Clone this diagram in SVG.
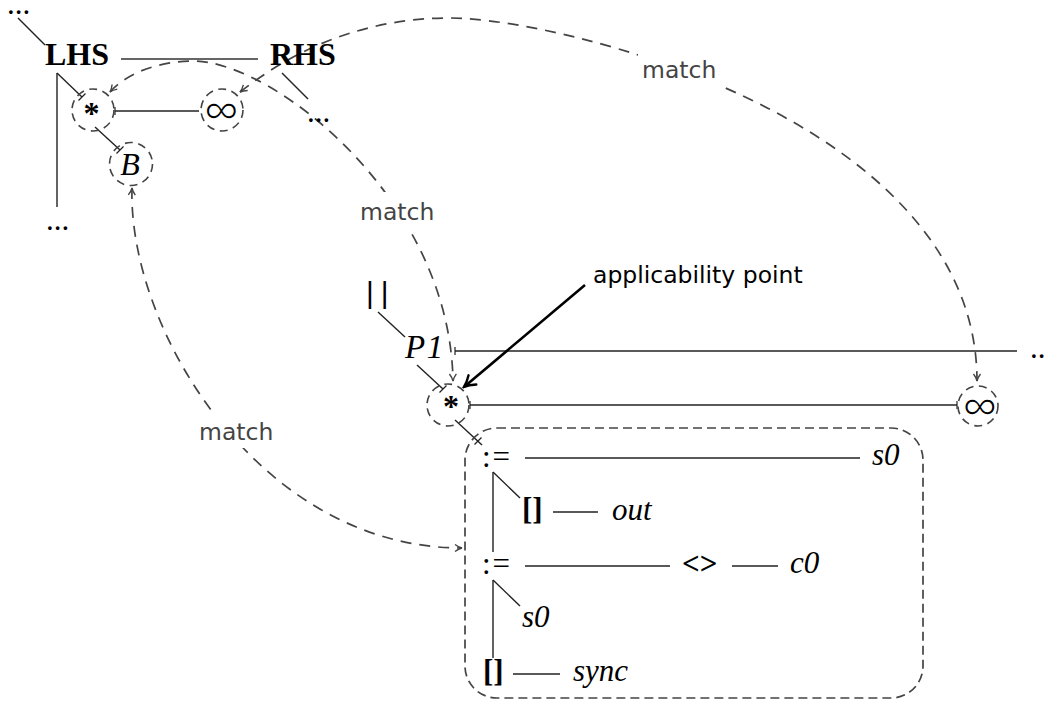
<svg xmlns="http://www.w3.org/2000/svg" width="1045" height="701" viewBox="0 0 1045 701">
<defs>
<style>
.e{stroke:#222;stroke-width:1.4;fill:none}
.t{stroke:#222;stroke-width:1.2;fill:none}
.c{fill:none;stroke:#444;stroke-width:1.6;stroke-dasharray:8 5.5}
.m{fill:none;stroke:#444;stroke-width:1.7;stroke-dasharray:11 8}
.box{fill:none;stroke:#444;stroke-width:1.7;stroke-dasharray:9 5}
.s{font-family:"Liberation Serif","Times New Roman",serif;font-size:31px;fill:#000}
.b{font-weight:bold}
.i{font-style:italic}
.ast{font-family:"Liberation Serif","Times New Roman",serif;font-size:32px;font-weight:bold}
.inf{font-family:"Open Sans","Noto Sans","DejaVu Sans",sans-serif;font-size:48px;font-weight:300}
.sans{font-family:"DejaVu Sans",sans-serif;font-size:23.5px}
.lbl{fill:#444}
</style>
<marker id="ga" viewBox="-8 -5 10 10" refX="0" refY="0" markerWidth="10" markerHeight="10" markerUnits="userSpaceOnUse" orient="auto-start-reverse">
<path d="M-7,-3.5 Q-3.5,-0.8 0,0 Q-3.5,0.8 -7,3.5" fill="none" stroke="#444" stroke-width="1.4"/>
</marker>
<marker id="ba" viewBox="-14 -8 16 16" refX="0" refY="0" markerWidth="16" markerHeight="16" markerUnits="userSpaceOnUse" orient="auto">
<path d="M-11,-6 Q-5,-1.5 0,0 Q-5,1.5 -11,6" fill="none" stroke="#000" stroke-width="2.4" stroke-linecap="round"/>
</marker>
</defs>
<rect width="1045" height="701" fill="#fff"/>

<g id="connectors">
<line class="e" x1="18" y1="18" x2="45" y2="45"/>
<line class="e" x1="121" y1="59" x2="258" y2="59" style="stroke:#333"/>
<line class="e" x1="57" y1="73" x2="57" y2="207"/>
<line class="e" x1="57" y1="73" x2="82" y2="97"/>
<line class="t" x1="78.5" y1="100.5" x2="85.5" y2="93.5"/>
<line class="e" x1="95" y1="127" x2="120" y2="150"/>
<line class="t" x1="116.5" y1="153.5" x2="123.5" y2="146.5"/>
<line class="e" x1="115" y1="111" x2="199" y2="111"/>
<line class="t" x1="115" y1="107" x2="115" y2="115"/>
<line class="e" x1="282" y1="73" x2="308" y2="99"/>
<line class="e" x1="378" y1="312" x2="405" y2="337"/>
<line class="e" x1="417" y1="365" x2="443" y2="389"/>
<line class="t" x1="439.5" y1="392.5" x2="446.5" y2="385.5"/>
<line class="e" x1="455" y1="351" x2="1017" y2="351"/>
<line class="t" x1="455" y1="347" x2="455" y2="355"/>
<line class="e" x1="470" y1="405" x2="957" y2="405"/>
<line class="t" x1="470" y1="401" x2="470" y2="409"/>
<line class="t" x1="957" y1="401" x2="957" y2="409"/>
<line class="e" x1="455" y1="420" x2="482" y2="445"/>
<line class="t" x1="474.5" y1="444.5" x2="481.5" y2="437.5"/>
<line class="e" x1="525" y1="458" x2="860" y2="458"/>
<line class="e" x1="493" y1="472" x2="520" y2="498"/>
<line class="e" x1="493" y1="472" x2="493" y2="552"/>
<line class="e" x1="553" y1="512" x2="598" y2="512"/>
<line class="e" x1="525" y1="566" x2="670" y2="566"/>
<line class="e" x1="732" y1="566" x2="778" y2="566"/>
<line class="e" x1="493" y1="580" x2="520" y2="606"/>
<line class="e" x1="493" y1="580" x2="493" y2="658"/>
<line class="e" x1="513" y1="674" x2="560" y2="674"/>
<path class="m" d="M240,92 C300,45 370,18 450,18 C560,18 977,120 977,381" marker-start="url(#ga)" marker-end="url(#ga)"/>
<path class="m" d="M110,92 C128,72 160,61 195,61 C275,63 450,200 453,381" marker-start="url(#ga)" marker-end="url(#ga)"/>
<path class="m" d="M132,188 C128,330 260,548 462,548" marker-start="url(#ga)" marker-end="url(#ga)"/>
<line x1="585" y1="285" x2="464" y2="387" stroke="#000" stroke-width="2.6" marker-end="url(#ba)"/>
<rect x="638" y="50" width="82" height="36" fill="#fff"/>
<rect x="355" y="192" width="82" height="36" fill="#fff"/>
<rect x="195" y="412" width="82" height="36" fill="#fff"/>
<text class="sans lbl" x="642" y="78">match</text>
<text class="sans lbl" x="360" y="220">match</text>
<text class="sans lbl" x="199" y="440">match</text>
</g>

<g id="dots-tl"><text class="s" x="7" y="14">...</text></g>
<g id="lhs"><text class="s b" x="45" y="65" style="font-size:32px">LHS</text></g>
<g id="rhs"><text class="s b" x="270" y="65" style="font-size:32px">RHS</text></g>
<g id="dots-lhs"><text class="s" x="46" y="230">...</text></g>
<g id="dots-rhs"><text class="s" x="307" y="122">...</text></g>
<g id="star1"><circle class="c" cx="93" cy="110" r="21"/><text class="ast" x="91.5" y="124" text-anchor="middle">*</text></g>
<g id="inf1"><circle class="c" cx="222" cy="110" r="21"/><text class="inf" x="221.5" y="128" text-anchor="middle">∞</text></g>
<g id="b"><circle class="c" cx="131" cy="164" r="21.5"/><text class="s i" x="130" y="175" text-anchor="middle" style="font-size:32px">B</text></g>
<g id="par"><text x="366" y="303" style="font-family:'Liberation Sans',Arial,sans-serif;font-size:30px;letter-spacing:7px">||</text></g>
<g id="p1"><text class="s i" x="405" y="358" style="font-size:33px;letter-spacing:1.5px">P1</text></g>
<g id="star2"><circle class="c" cx="448" cy="405" r="21"/><text class="ast" x="451" y="416.5" text-anchor="middle">*</text></g>
<g id="dots-p1"><text class="s" x="1030" y="358">...</text></g>
<g id="inf2"><circle class="c" cx="978" cy="406" r="20"/><text class="inf" x="980" y="424" text-anchor="middle">∞</text></g>
<g id="applicability"><text class="sans" x="593" y="283">applicability point</text></g>
<g id="block">
<rect class="box" x="465" y="428" width="458" height="270" rx="32" ry="32"/>
<g id="assign1"><text class="s" x="482" y="467" style="letter-spacing:2px">:=</text></g>
<g id="s0a"><text class="s i" x="872" y="465">s0</text></g>
<g id="idx1"><text class="s b" x="522" y="518.5">[]</text></g>
<g id="out"><text class="s i" x="612" y="520">out</text></g>
<g id="assign2"><text class="s" x="482" y="574" style="letter-spacing:2px">:=</text></g>
<g id="neq"><text class="s b" x="682" y="574">&lt;&gt;</text></g>
<g id="c0"><text class="s i" x="790" y="573">c0</text></g>
<g id="s0b"><text class="s i" x="522" y="627">s0</text></g>
<g id="idx2"><text class="s b" x="483" y="680.5">[]</text></g>
<g id="sync"><text class="s i" x="573" y="681">sync</text></g>
</g>
</svg>
